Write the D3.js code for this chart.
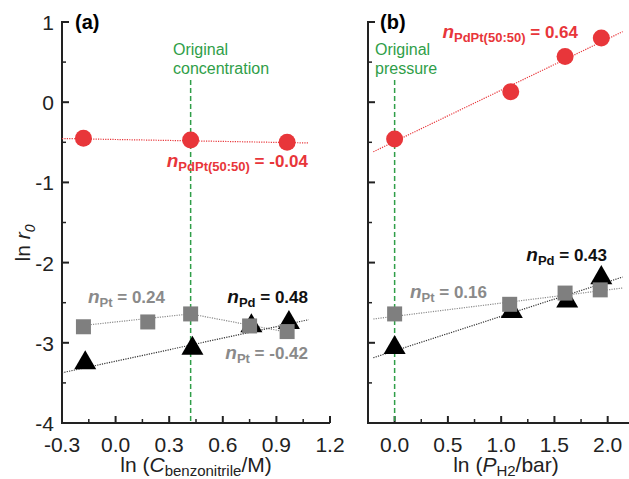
<!DOCTYPE html>
<html>
<head>
<meta charset="utf-8">
<script src="https://cdn.jsdelivr.net/npm/d3@7"></script>
<style>
  body { margin: 0; background: #fff; }
  svg { font-family: "Liberation Sans", Arial, sans-serif; }
</style>
</head>
<body>
<svg id="chart" width="629" height="479"></svg>
<script>
// Panel (a): dependence on benzonitrile concentration
const concX_PdPt = [-0.18, 0.42, 0.96];
const concY_PdPt = [-0.45, -0.47, -0.50];
const concX_Pt = [-0.18, 0.18, 0.42, 0.75, 0.96];
const concY_Pt = [-2.80, -2.74, -2.64, -2.79, -2.86];
const concX_Pd = [-0.17, 0.43, 0.76, 0.97];
const concY_Pd = [-3.25, -3.07, -2.79, -2.75];

// Panel (b): dependence on H2 pressure
const presX_PdPt = [0.0, 1.09, 1.60, 1.94];
const presY_PdPt = [-0.46, 0.13, 0.57, 0.80];
const presX_Pt = [0.0, 1.08, 1.60, 1.93];
const presY_Pt = [-2.64, -2.52, -2.38, -2.34];
const presX_Pd = [0.0, 1.10, 1.62, 1.94];
const presY_Pd = [-3.06, -2.61, -2.48, -2.19];

// Fitted reaction orders: slope, intercept and the x span of each line
const fitsA = [
  { slope: -0.04, intercept: -0.465, x0: -0.3, x1: 1.08, color: "#e8363a" },
  { slope: 0.24, intercept: -2.74, x0: -0.22, x1: 0.42, color: "#8c8c8c" },
  { slope: -0.42, intercept: -2.464, x0: 0.42, x1: 1.0, color: "#8c8c8c" },
  { slope: 0.48, intercept: -3.23, x0: -0.3, x1: 1.08, color: "#333333" }
];
const fitsB = [
  { slope: 0.64, intercept: -0.49, x0: -0.2, x1: 2.14, color: "#e8363a" },
  { slope: 0.165, intercept: -2.67, x0: -0.2, x1: 2.14, color: "#8c8c8c" },
  { slope: 0.43, intercept: -3.10, x0: -0.2, x1: 2.14, color: "#333333" }
];

const ticksA = [-0.3, 0.0, 0.3, 0.6, 0.9, 1.2];
const ticksB = [0.0, 0.5, 1.0, 1.5, 2.0];
const ticksY = [-4, -3, -2, -1, 0, 1];

const RED = "#e8363a", GREY = "#7f7f7f", GREEN = "#2f9e48", GREYTXT = "#8a8a8a";

const svg = d3.select("#chart");
const y = d3.scaleLinear().domain([-4, 1]).range([423, 22]);
const xA = d3.scaleLinear().domain([-0.3, 1.2]).range([62, 330]);
const xB = d3.scaleLinear().domain([-0.25, 2.2]).range([368, 629]);

// plain hyphen for negative tick values
const fmt1 = v => d3.format(".1f")(v).replace("\u2212", "-");

function drawAxes(x, xticks, xMinor, fmt, showYLabels) {
  const g = svg.append("g");
  const [r0, r1] = x.range();
  // x axis line and inward ticks
  g.append("line").attr("x1", r0).attr("x2", r1).attr("y1", y(-4)).attr("y2", y(-4))
    .attr("stroke", "#222").attr("stroke-width", 2);
  xMinor.forEach(v => {
    g.append("line").attr("x1", x(v)).attr("x2", x(v)).attr("y1", y(-4)).attr("y2", y(-4) - 4)
      .attr("stroke", "#222").attr("stroke-width", 1.5);
  });
  xticks.forEach(v => {
    g.append("line").attr("x1", x(v)).attr("x2", x(v)).attr("y1", y(-4)).attr("y2", y(-4) - 7)
      .attr("stroke", "#222").attr("stroke-width", 2);
    g.append("text").attr("x", x(v)).attr("y", 452).attr("text-anchor", "middle")
      .attr("font-size", 21).attr("fill", "#222").text(fmt(v));
  });
  // y axis line and inward ticks
  g.append("line").attr("x1", r0).attr("x2", r0).attr("y1", y(-4) + 1).attr("y2", y(1) - 1)
    .attr("stroke", "#222").attr("stroke-width", 2);
  d3.range(-3.5, 1, 1).forEach(v => {
    g.append("line").attr("x1", r0).attr("x2", r0 + 4).attr("y1", y(v)).attr("y2", y(v))
      .attr("stroke", "#222").attr("stroke-width", 1.5);
  });
  ticksY.forEach(v => {
    g.append("line").attr("x1", r0).attr("x2", r0 + 7).attr("y1", y(v)).attr("y2", y(v))
      .attr("stroke", "#222").attr("stroke-width", 2);
    if (showYLabels) {
      g.append("text").attr("x", r0 - 8).attr("y", y(v) + 8).attr("text-anchor", "end")
        .attr("font-size", 21).attr("fill", "#222").text(String(v));
    }
  });
}

drawAxes(xA, ticksA, d3.range(-0.15, 1.2, 0.3), fmt1, true);
drawAxes(xB, ticksB, d3.range(0.25, 2.2, 0.5), fmt1, false);

// Reference lines for the original reaction conditions
function refLine(x, v) {
  svg.append("line").attr("x1", x(v)).attr("x2", x(v)).attr("y1", 80).attr("y2", y(-4) - 1)
    .attr("stroke", GREEN).attr("stroke-width", 1.5).attr("stroke-dasharray", "5,3");
}
refLine(xA, 0.42);
refLine(xB, 0.0);

function fitLines(x, fits) {
  fits.forEach(f => {
    svg.append("line")
      .attr("x1", x(f.x0)).attr("y1", y(f.intercept + f.slope * f.x0))
      .attr("x2", x(f.x1)).attr("y2", y(f.intercept + f.slope * f.x1))
      .attr("stroke", f.color).attr("stroke-width", 1.2).attr("stroke-dasharray", "1.2,1.2");
  });
}
fitLines(xA, fitsA);
fitLines(xB, fitsB);

const tri = d3.symbol().type(d3.symbolTriangle).size(210);
function markers(x, cx, cy, sx, sy, tx, ty) {
  svg.append("g").selectAll("path").data(d3.zip(tx, ty)).join("path")
    .attr("d", tri).attr("transform", d => `translate(${x(d[0])},${y(d[1])})`)
    .attr("fill", "#000");
  svg.append("g").selectAll("rect").data(d3.zip(sx, sy)).join("rect")
    .attr("x", d => x(d[0]) - 7.5).attr("y", d => y(d[1]) - 7.5)
    .attr("width", 15).attr("height", 15).attr("fill", GREY);
  svg.append("g").selectAll("circle").data(d3.zip(cx, cy)).join("circle")
    .attr("cx", d => x(d[0])).attr("cy", d => y(d[1])).attr("r", 8.5).attr("fill", RED);
}
markers(xA, concX_PdPt, concY_PdPt, concX_Pt, concY_Pt, concX_Pd, concY_Pd);
markers(xB, presX_PdPt, presY_PdPt, presX_Pt, presY_Pt, presX_Pd, presY_Pd);

// Reaction order annotations
function orderLabel(xp, yp, anchor, sub, value, color) {
  const t = svg.append("text").attr("x", xp).attr("y", yp).attr("text-anchor", anchor)
    .attr("font-size", 17).attr("font-weight", "bold").attr("fill", color);
  t.append("tspan").attr("font-style", "italic").attr("font-size", 19).text("n");
  t.append("tspan").attr("font-size", 13).attr("dy", 4).text(sub);
  t.append("tspan").attr("dy", -4).text(" = " + value);
}
orderLabel(308, 167, "end", "PdPt(50:50)", "-0.04", RED);
orderLabel(165, 303, "end", "Pt", "0.24", GREYTXT);
orderLabel(308, 303, "end", "Pd", "0.48", "#111");
orderLabel(308, 359, "end", "Pt", "-0.42", GREYTXT);
orderLabel(578, 38, "end", "PdPt(50:50)", "0.64", RED);
orderLabel(607, 261, "end", "Pd", "0.43", "#111");
orderLabel(487, 298, "end", "Pt", "0.16", GREYTXT);

// Panel tags and condition notes
svg.append("text").attr("x", 75).attr("y", 29).attr("font-size", 20).attr("font-weight", "bold").text("(a)");
svg.append("text").attr("x", 380).attr("y", 29).attr("font-size", 20).attr("font-weight", "bold").text("(b)");
function note(xp, lines) {
  lines.forEach((s, i) => svg.append("text").attr("x", xp).attr("y", 55 + i * 19)
    .attr("font-size", 16).attr("fill", GREEN).text(s));
}
note(173, ["Original", "concentration"]);
note(375, ["Original", "pressure"]);

// Axis titles
const ty = svg.append("text").attr("transform", "translate(30,243) rotate(-90)")
  .attr("text-anchor", "middle").attr("font-size", 21).attr("fill", "#222");
ty.append("tspan").text("ln ");
ty.append("tspan").attr("font-style", "italic").text("r");
ty.append("tspan").attr("font-style", "italic").attr("font-size", 14).attr("dy", 5).text("0");

const ta = svg.append("text").attr("x", 196).attr("y", 472).attr("text-anchor", "middle")
  .attr("font-size", 21).attr("fill", "#222");
ta.append("tspan").text("ln (");
ta.append("tspan").attr("font-style", "italic").text("C");
ta.append("tspan").attr("font-size", 15).attr("dy", 4).text("benzonitrile");
ta.append("tspan").attr("dy", -4).text("/M)");

const tb = svg.append("text").attr("x", 506).attr("y", 472).attr("text-anchor", "middle")
  .attr("font-size", 21).attr("fill", "#222");
tb.append("tspan").text("ln (");
tb.append("tspan").attr("font-style", "italic").text("P");
tb.append("tspan").attr("font-size", 15).attr("dy", 4).text("H2");
tb.append("tspan").attr("dy", -4).text("/bar)");
</script>
</body>
</html>
